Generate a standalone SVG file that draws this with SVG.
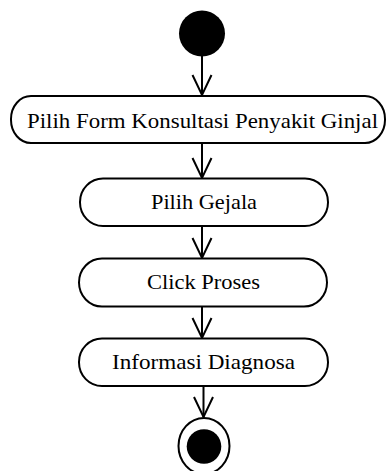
<svg xmlns="http://www.w3.org/2000/svg" width="387" height="471" viewBox="0 0 387 471">
  <style>
    .act { fill: #ffffff; stroke: #000000; stroke-width: 2; }
    .lbl { font-family: "Liberation Serif", "Times New Roman", serif; font-size: 22px; fill: #000000; text-anchor: middle; }
    .flow { fill: none; stroke: #000000; stroke-width: 2; marker-end: url(#open-arrow); }
  </style>
  <defs>
    <!-- open V-shaped arrowhead for control flows -->
    <marker id="open-arrow" markerUnits="userSpaceOnUse" markerWidth="30" markerHeight="30" refX="0" refY="0" orient="auto" overflow="visible">
      <path d="M-20,-9.5 L0,0 L-20,9.5" fill="none" stroke="#000000" stroke-width="2"/>
    </marker>
  </defs>

  <!-- control flows -->
  <g id="connectors">
    <line class="flow" x1="202" y1="56" x2="202" y2="95"/>
    <line class="flow" x1="202" y1="143" x2="202" y2="178"/>
    <line class="flow" x1="202" y1="226" x2="202" y2="258"/>
    <line class="flow" x1="202" y1="307" x2="202" y2="338"/>
    <line class="flow" x1="203.5" y1="386" x2="203.5" y2="417"/>
  </g>

  <!-- initial node -->
  <g id="start">
    <circle cx="202" cy="33.5" r="23" fill="#000000"/>
  </g>

  <g id="pilih-form">
    <rect class="act" x="11" y="96" width="374" height="47" rx="20" ry="23"/>
    <text class="lbl" x="202.5" y="128" textLength="351" lengthAdjust="spacingAndGlyphs">Pilih Form Konsultasi Penyakit Ginjal</text>
  </g>

  <g id="pilih-gejala">
    <rect class="act" x="80" y="178.5" width="248" height="47.5" rx="23" ry="23.5"/>
    <text class="lbl" x="204" y="209" textLength="106" lengthAdjust="spacingAndGlyphs">Pilih Gejala</text>
  </g>

  <g id="click-proses">
    <rect class="act" x="79" y="258.5" width="248" height="48" rx="23" ry="24"/>
    <text class="lbl" x="203.5" y="288.5" textLength="113" lengthAdjust="spacingAndGlyphs">Click Proses</text>
  </g>

  <g id="informasi-diagnosa">
    <rect class="act" x="79" y="338.5" width="249" height="47.5" rx="23" ry="23.5"/>
    <text class="lbl" x="203.5" y="369" textLength="183" lengthAdjust="spacingAndGlyphs">Informasi Diagnosa</text>
  </g>

  <!-- final node -->
  <g id="end">
    <ellipse cx="204" cy="446" rx="25.5" ry="28" fill="#ffffff" stroke="#000000" stroke-width="2"/>
    <circle cx="204" cy="446.5" r="17.3" fill="#000000"/>
  </g>
</svg>
